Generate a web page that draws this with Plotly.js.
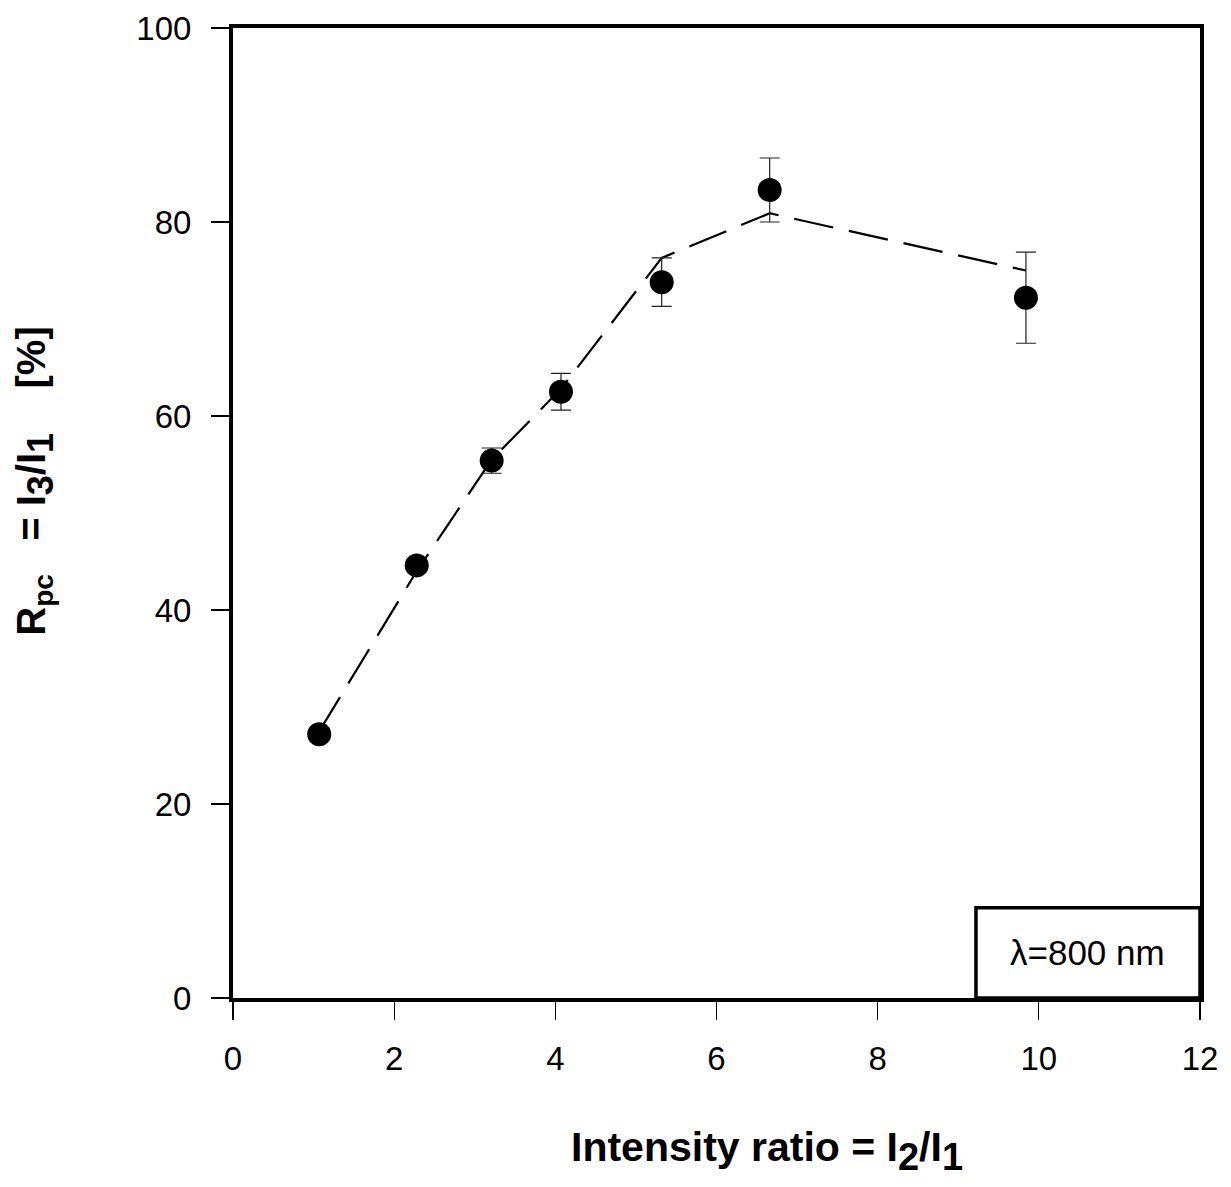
<!DOCTYPE html>
<html>
<head>
<meta charset="utf-8">
<script src="https://cdn.plot.ly/plotly-3.0.1.min.js"></script>
<style>html,body{margin:0;padding:0;background:#fff;}</style>
</head>
<body>
<div id="chart" style="width:1231px;height:1187px;"></div>
<script>
// Measured data
const intensityRatio = [1.07, 2.28, 3.21, 4.07, 5.32, 6.66, 9.84];
const rpcPercent     = [27.2, 44.6, 55.4, 62.5, 73.8, 83.3, 72.2];
const rpcError       = [0.6, 0.6, 1.3, 1.9, 2.5, 3.3, 4.7];
// Dashed fit curve values at the same intensity ratios
const fitPercent     = [27.5, 44.0, 55.5, 62.8, 76.3, 80.9, 75.0];
const xTicks = [0, 2, 4, 6, 8, 10, 12];
const yTicks = [0, 20, 40, 60, 80, 100];
const boxLabel = "\u03bb=800 nm";
const boxX0 = 9.22, boxY1 = 9.3;

const FONT = "Liberation Sans, Arial, Helvetica, sans-serif";

const traces = [
  {
    x: intensityRatio, y: fitPercent, mode: "lines", type: "scatter",
    line: {color: "#000", width: 2.2, dash: "40px,16px"},
    hoverinfo: "skip", showlegend: false
  },
  {
    x: intensityRatio, y: rpcPercent, mode: "markers", type: "scatter",
    marker: {color: "#000", size: 24, line: {width: 0}},
    error_y: {type: "data", array: rpcError, visible: true, color: "#222", thickness: 1.2, width: 10},
    showlegend: false
  }
];

const xTitle = '<b>Intensity ratio = I<sub><span style="font-size:38px">2</span></sub>/I<sub><span style="font-size:38px">1</span></sub></b>';
const yTitle = '<b>R<sub>pc</sub>   = I<sub><span style="font-size:36px">3</span></sub>/I<sub><span style="font-size:36px">1</span></sub>    [%]</b>';

const layout = {
  width: 1231, height: 1187,
  margin: {l: 233, r: 31, t: 28, b: 189},
  paper_bgcolor: "#fff", plot_bgcolor: "#fff",
  font: {family: FONT, color: "#000"},
  showlegend: false,
  xaxis: {
    range: [0, 12], tickvals: xTicks, ticktext: xTicks.map(String),
    showgrid: false, zeroline: false,
    showline: true, linewidth: 4, linecolor: "#000", mirror: true,
    ticks: "outside", ticklen: 18, tickwidth: 1.2, tickcolor: "#000",
    tickfont: {size: 33, family: FONT}, ticklabelstandoff: 10
  },
  yaxis: {
    range: [0, 100], tickvals: yTicks, ticktext: yTicks.map(String),
    showgrid: false, zeroline: false,
    showline: true, linewidth: 4, linecolor: "#000", mirror: true,
    ticks: "outside", ticklen: 18, tickwidth: 1.2, tickcolor: "#000",
    tickfont: {size: 33, family: FONT}, ticklabelstandoff: 13
  },
  shapes: [
    {type: "rect", xref: "x", yref: "y", x0: boxX0, x1: 12, y0: 0, y1: boxY1,
     line: {color: "#000", width: 3.5}, fillcolor: "rgba(0,0,0,0)"}
  ],
  annotations: [
    {xref: "x", yref: "y", x: (boxX0 + 12) / 2, y: boxY1 / 2, text: boxLabel, showarrow: false,
     font: {size: 35, family: FONT, color: "#000"}, xanchor: "center", yanchor: "middle"},
    {xref: "paper", yref: "paper", x: 0.552, y: -0.158, text: xTitle, showarrow: false,
     font: {size: 41, family: FONT, color: "#000"}, xanchor: "center", yanchor: "middle"},
    {xref: "paper", yref: "paper", x: -0.205, y: 0.533, text: yTitle, showarrow: false, textangle: -90,
     font: {size: 40, family: FONT, color: "#000"}, xanchor: "center", yanchor: "middle"}
  ]
};

Plotly.newPlot("chart", traces, layout, {displayModeBar: false, staticPlot: true});
</script>
</body>
</html>
